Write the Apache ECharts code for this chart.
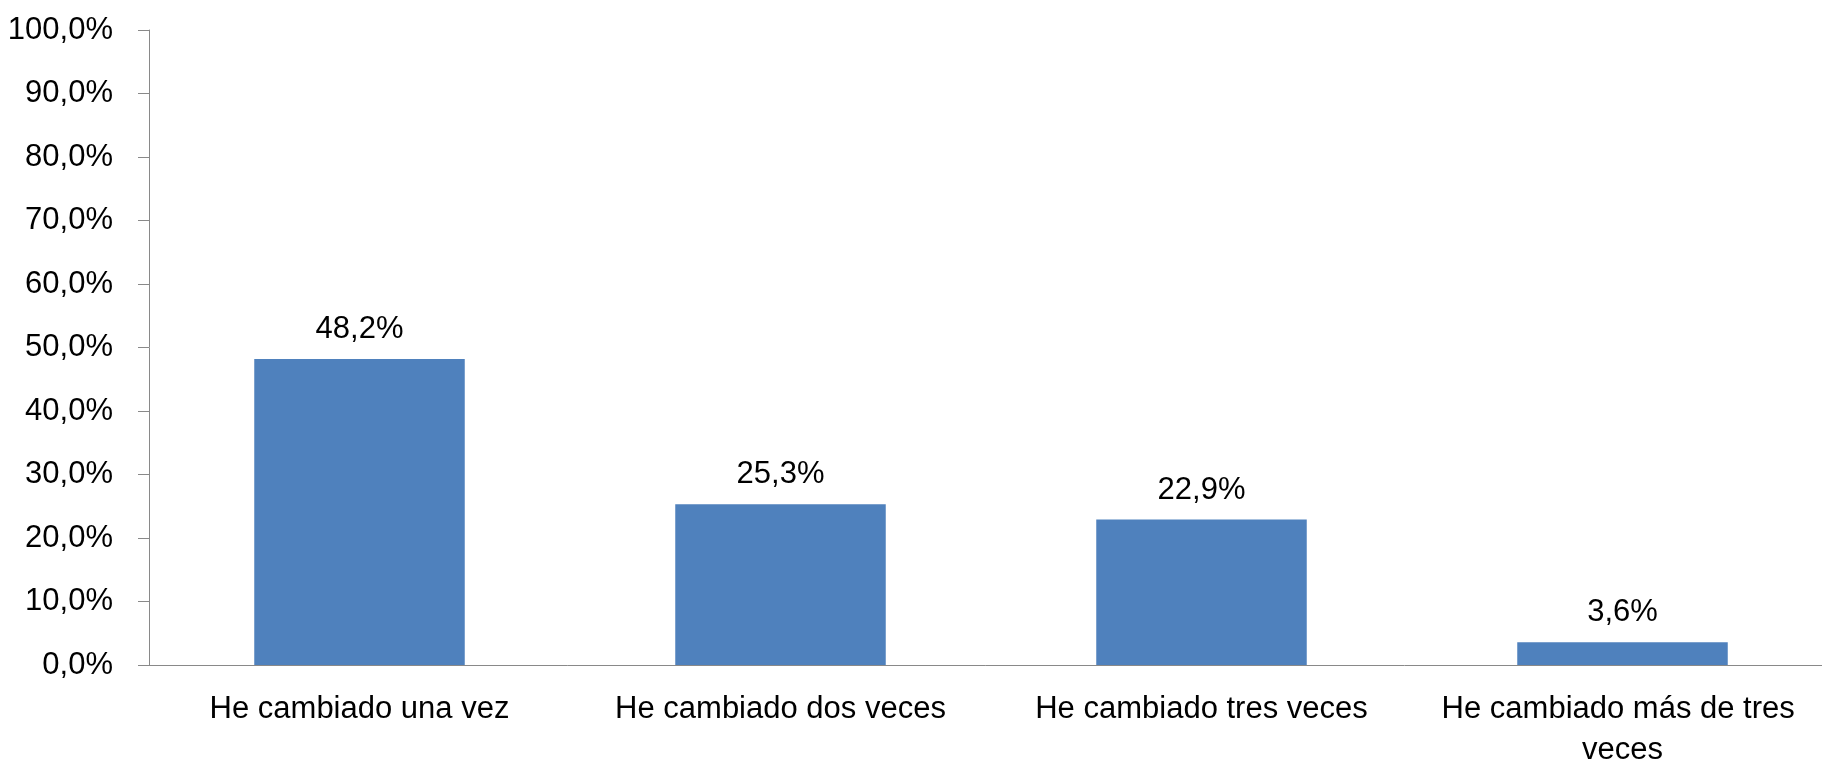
<!DOCTYPE html>
<html>
<head>
<meta charset="utf-8">
<script src="https://cdn.jsdelivr.net/npm/echarts@6/dist/echarts.min.js"></script>
<style>
  html, body { margin: 0; padding: 0; background: #fff; }
  #chart { width: 1822px; height: 766px; }
</style>
</head>
<body>
<div id="chart"></div>
<script>
// Data
const categories = [
  "He cambiado una vez",
  "He cambiado dos veces",
  "He cambiado tres veces",
  "He cambiado más de tres veces",
];
const values = [48.2, 25.3, 22.9, 3.6];

const FONT = '"Liberation Sans Narrow", "Arial Narrow", "Liberation Sans", sans-serif';
const AXIS_COLOR = "#898989";

function pct(v, digits) {
  return v.toFixed(digits).replace(".", ",") + "%";
}

const chart = echarts.init(document.getElementById("chart"));
chart.setOption({
  animation: false,
  grid: { left: 149, right: -11, top: 30, bottom: 101, outerBoundsMode: "none" },
  xAxis: {
    type: "category",
    data: categories,
    axisLine: { lineStyle: { color: AXIS_COLOR, width: 1 } },
    axisTick: { length: 11, lineStyle: { color: AXIS_COLOR } },
    axisLabel: {
      color: "#000",
      fontFamily: FONT,
      fontSize: 31,
      lineHeight: 41,
      margin: 24,
      width: 400,
      overflow: "break",
      interval: 0,
    },
  },
  yAxis: {
    type: "value",
    min: 0,
    max: 100,
    interval: 10,
    axisLine: { show: true, lineStyle: { color: AXIS_COLOR, width: 1 } },
    axisTick: { show: true, length: 11, lineStyle: { color: AXIS_COLOR } },
    splitLine: { show: false },
    axisLabel: {
      color: "#000",
      fontFamily: FONT,
      fontSize: 31,
      margin: 36,
      formatter: (v) => pct(v, 1),
    },
  },
  series: [
    {
      type: "bar",
      data: values,
      barWidth: "50%",
      itemStyle: { color: "#4F81BD" },
      label: {
        show: true,
        position: "top",
        distance: 14,
        color: "#000",
        fontFamily: FONT,
        fontSize: 31,
        formatter: (p) => pct(p.value, 1),
      },
    },
  ],
});
</script>
</body>
</html>
